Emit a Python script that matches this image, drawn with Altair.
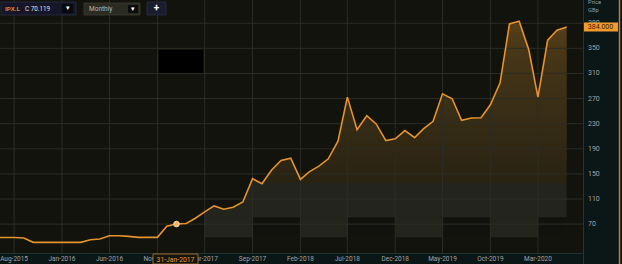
import altair as alt
import pandas as pd

# ---------------- data ----------------
months = pd.date_range("2015-06-01", "2020-06-01", freq="MS")
prices = [48.6, 48.6, 48.6, 47.8, 41, 41, 41, 41, 41, 41, 45.1, 46.2, 51.4, 51.4,
          50.5, 48.9, 48.9, 48.9, 66.8, 70.119, 71.1, 79, 89.5, 99, 93.7, 97,
          105.3, 142.4, 134.2, 156.3, 171.4, 175, 141.3, 153.2, 162.4, 174.1,
          202, 272.3, 220.5, 242.7, 229.6, 203, 205.8, 219, 207.8, 221.6, 233.7,
          277.6, 269.7, 235.3, 239, 239.5, 260.1, 295, 389, 393.3, 347.3, 272.3,
          363, 379, 384]
x_tick_dates = pd.date_range("2015-08-01", periods=12, freq="5MS")
y_ticks = [70, 110, 150, 190, 230, 270, 310, 350, 390]
fill_start = "2017-04-01"
fill_base = 49
split_level = 136
alt_base = 81
shade_start = ["2017-09-01", "2018-07-01", "2019-05-01", "2020-03-01"]
shade_end = ["2018-02-01", "2018-12-01", "2019-10-01", "2020-06-01"]
marker_date = "2017-01-01"
marker_label = "31-Jan-2017"
ticker = "IPX.L"
last_close = "C 70.119"
period_label = "Monthly"

df = pd.DataFrame({"date": months, "price": prices})
df_area = df[df["date"] >= pd.Timestamp(fill_start)]
df_marker = df[df["date"] == pd.Timestamp(marker_date)]
df_shade = pd.DataFrame({"start": pd.to_datetime(shade_start), "end": pd.to_datetime(shade_end)})
df_last = pd.DataFrame({"p": [prices[-1]], "lbl": [f"{prices[-1]:.3f}"]})
df_xt = pd.DataFrame({"date": list(x_tick_dates), "xl": [d.strftime("%b-%Y") for d in x_tick_dates]})
df_yt = pd.DataFrame({"price": [float(v) for v in y_ticks], "yl": [str(v) for v in y_ticks]})
one = pd.DataFrame({"k": [0]})

FONT = "Roboto"
W, H = 583, 253
GRID = "#2b2d26"
LABEL = "#a3a3a3"

xs = alt.Scale(domain=[alt.DateTime(year=2015, month=6, date=17),
                       alt.DateTime(year=2020, month=7, date=23)])
ys = alt.Scale(domain=[24, 427], nice=False, zero=False)

x_axis = alt.Axis(title=None, labels=False, ticks=False, grid=False, domain=False)
y_axis = alt.Axis(title=None, labels=False, ticks=False, grid=False, domain=False, orient="right")
X = lambda f: alt.X(f, scale=xs, axis=x_axis)
Y = lambda f: alt.Y(f, scale=ys, axis=y_axis)

top = max(df_area["price"])
off = (top - split_level) / (top - fill_base)
grad = alt.Gradient(
    gradient="linear", x1=0, x2=0, y1=0, y2=1,
    stops=[
        alt.GradientStop(color="rgba(228,150,48,0.34)", offset=0),
        alt.GradientStop(color="rgba(218,148,52,0.27)", offset=0.14),
        alt.GradientStop(color="rgba(205,145,60,0.19)", offset=0.5),
        alt.GradientStop(color="rgba(200,140,60,0.13)", offset=off),
        alt.GradientStop(color="rgba(225,230,210,0.085)", offset=off + 0.001),
        alt.GradientStop(color="rgba(225,230,210,0.085)", offset=1),
    ],
)

area = alt.Chart(df_area).mark_area(color=grad).encode(
    x=X("date:T"), y=Y("price:Q"), y2=alt.datum(fill_base))

shade = alt.Chart(df_shade).mark_rect(color="black", opacity=0.5).encode(
    x=X("start:T"), x2="end:T", y=alt.datum(fill_base), y2=alt.datum(alt_base))

# grid (from tick arrays, through the scales)
grid_h = alt.Chart(df_yt).mark_rule(color=GRID, strokeWidth=1).encode(
    y=Y("price:Q"), x=alt.value(0), x2=alt.value(W))
grid_v = alt.Chart(df_xt).mark_rule(color=GRID, strokeWidth=1).encode(
    x=X("date:T"), y=alt.value(0), y2=alt.value(H))

line = alt.Chart(df).mark_line(color="#e8922c", strokeWidth=1.6, clip=True).encode(
    x=X("date:T"), y=Y("price:Q"))

marker = alt.Chart(df_marker).mark_point(filled=True, size=32, color="#f6b65c",
                                         stroke="#fff0d0", strokeWidth=0.8, opacity=1).encode(
    x=X("date:T"), y=Y("price:Q"))

# axis labels
x_lab = alt.Chart(df_xt).mark_text(color=LABEL, fontSize=6.5, font=FONT, align="center",
                                   baseline="middle").encode(
    x=X("date:T"), y=alt.value(259), text="xl:N")
y_lab = alt.Chart(df_yt).mark_text(color=LABEL, fontSize=7, font=FONT, align="left",
                                   baseline="middle").encode(
    x=alt.value(588), y=Y("price:Q"), text="yl:N")

# last price badge on the right axis
badge = alt.Chart(df_last).mark_rule(color="#f29a2e", strokeWidth=9, strokeCap="butt").encode(
    x=alt.value(583), x2=alt.value(618), y=Y("p:Q"))
badge_txt = alt.Chart(df_last).mark_text(color="#3a1800", fontSize=7, font=FONT,
                                         align="center", baseline="middle").encode(
    x=alt.value(600.5), y=Y("p:Q"), text="lbl:N")

# decorations (UI chrome of the screenshot)
def rect(x, x2, y, y2, fill, stroke=None, sw=0.8):
    kw = dict(color=fill)
    if stroke:
        kw.update(stroke=stroke, strokeWidth=sw)
    return alt.Chart(one).mark_rect(**kw).encode(
        x=alt.value(x), x2=alt.value(x2), y=alt.value(y), y2=alt.value(y2))

def text(t, x, y, color, size=6.5, align="left", weight="normal"):
    return alt.Chart(one).mark_text(text=t, color=color, fontSize=size, font=FONT,
                                    align=align, baseline="middle", fontWeight=weight).encode(
        x=alt.value(x), y=alt.value(y))

def rule(x, x2, y, y2, color, sw=1):
    return alt.Chart(one).mark_rule(color=color, strokeWidth=sw).encode(
        x=alt.value(x), x2=alt.value(x2), y=alt.value(y), y2=alt.value(y2))

deco = [
    rule(0, W, H + 0.5, H + 0.5, "#223030"),
    rule(W + 0.5, W + 0.5, 0, 264, "#283432"),
    rect(153, 198, 254, 264, "#15140e", "#b87c2e"),
    text(marker_label, 175.5, 259.5, "#e59a35", 6.8, "center"),
    rect(159, 203, 50, 73, "#000000"),
    # header
    rect(1, 76, 2, 15, "#16162a", "#2c2c44"),
    text(ticker, 5, 8.8, "#d98a2a", 6.2, weight="bold"),
    text(last_close, 25, 8.8, "#e0e0e0", 6.3),
    rect(62, 73, 4, 13, "#08080f"),
    text("▾", 67.5, 8.3, "#ffffff", 7, "center"),
    rect(84, 140, 3, 15, "#2a2b22", "#3c3d32"),
    text(period_label, 89, 9, "#b9b9aa", 6.5),
    rect(128, 138, 5, 13, "#0c0c0c"),
    text("▾", 133, 8.6, "#ffffff", 7, "center"),
    rect(147, 166, 2, 15, "#1c1c30", "#2e2e46"),
    text("+", 156.5, 8.3, "#ffffff", 10, "center", "bold"),
    # right axis header
    text("Price", 588, 2, "#9a9a9a", 5.8),
    text("GBp", 588, 10, "#9a9a9a", 5.8),
    # right border
    rule(619.5, 619.5, -1, 265, "#c47a2c", 1.5),
]

chart = alt.layer(area, shade, grid_h, grid_v, line, marker, x_lab, y_lab,
                  badge, badge_txt, *deco).properties(
    width=W, height=H,
    autosize=alt.AutoSizeParams(type="none"),
    padding={"left": 0, "top": 0, "right": 622 - W, "bottom": 264 - H},
    background="#0b1616",
).configure_view(fill="#11130c", stroke=None)

chart.save("out.html", embed_options={"renderer": "svg", "actions": False})
